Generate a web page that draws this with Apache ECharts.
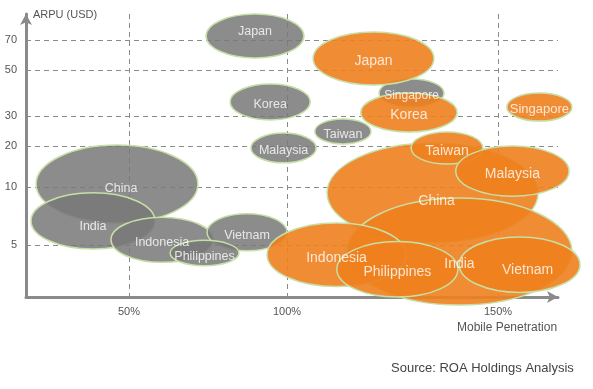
<!DOCTYPE html>
<html><head><meta charset="utf-8">
<script src="https://cdn.jsdelivr.net/npm/echarts@6/dist/echarts.min.js"></script>
<style>html,body{margin:0;padding:0;background:#fff}#c{width:593px;height:389px}</style>
</head><body><div id="c"></div>
<script>
// ---- Axis scale (the source chart uses an uneven, hand-drawn scale) ----
const xScaleValues = [17.4, 50, 100, 150, 164.2];      // mobile penetration (%)
const xScaleUnits  = [0, 103, 261, 472, 532];
const yScaleValues = [0.5, 5, 10, 20, 30, 50, 70, 87];  // ARPU (USD)
const yScaleUnits  = [0, 52, 110, 151, 181, 227, 257, 283];
const xTicks = [50, 100, 150];
const yTicks = [5, 10, 20, 30, 50, 70];

// ---- Earlier year (grey bubbles): penetration range and ARPU range ----
const prevNames  = ['China','India','Indonesia','Vietnam','Philippines','Japan','Korea','Malaysia','Taiwan','Singapore'];
const prevPenLo  = [20.6, 19.0, 44.3, 74.7, 63.0, 74.4, 82.0, 88.6, 106.6, 121.8];
const prevPenHi  = [71.8, 58.2, 76.6, 100.0, 84.8, 104.0, 105.5, 106.9, 119.9, 137.2];
const prevArpuLo = [6.9, 4.65, 3.5, 4.5, 3.2, 58, 28.7, 15.9, 20.7, 33.9];
const prevArpuHi = [20.3, 9.5, 7.4, 7.7, 5.4, 87, 43.9, 24.3, 29.0, 46.1];

// ---- Later year (orange bubbles) ----
const curNames  = ['Japan','Korea','Singapore','China','Taiwan','Malaysia','India','Indonesia','Philippines','Vietnam'];
const curPenLo  = [106.2, 117.5, 152.1, 109.5, 129.4, 140.0, 114.2, 93.7, 111.8, 140.8];
const curPenHi  = [134.8, 140.3, 167.5, 159.5, 146.4, 166.8, 167.5, 128.2, 140.5, 169.4];
const curArpuLo = [43.5, 24.7, 28.3, 5.2, 15.6, 9.2, -0.2, 1.4, 0.5, 0.9];
const curArpuHi = [75.2, 40.0, 40.0, 21.0, 24.7, 20.0, 9.05, 6.9, 5.3, 5.7];

// ---- helpers ----
function interp(v, vals, units) {
  let i = 0;
  while (i < vals.length - 2 && v > vals[i + 1]) i++;
  return units[i] + (v - vals[i]) * (units[i + 1] - units[i]) / (vals[i + 1] - vals[i]);
}
const toX = v => interp(v, xScaleValues, xScaleUnits);
const toY = v => interp(v, yScaleValues, yScaleUnits);

function buildRows(names, pLo, pHi, aLo, aHi) {
  return names.map((n, i) => ({ name: n, value: [toX(pLo[i]), toX(pHi[i]), toY(aLo[i]), toY(aHi[i])] }));
}
const prevRows = buildRows(prevNames, prevPenLo, prevPenHi, prevArpuLo, prevArpuHi);
const curRows = buildRows(curNames, curPenLo, curPenHi, curArpuLo, curArpuHi);

const labelOffsets = {
  'cur:India': [0, 13], 'cur:Vietnam': [8, 6], 'cur:China': [4, 8], 'cur:Singapore': [0, 2],
  'prev:Japan': [0, -4], 'prev:China': [4, 5], 'prev:India': [0, 6]
};
const labelSizes = { 'cur:Singapore': 13, 'prev:Singapore': 12 };

function labelRows(rows, key) {
  return rows.map(r => {
    const k = key + ':' + r.name;
    const label = { offset: labelOffsets[k] || [0, 3] };
    if (labelSizes[k]) label.fontSize = labelSizes[k];
    return {
      name: r.name,
      value: [(r.value[0] + r.value[1]) / 2, (r.value[2] + r.value[3]) / 2],
      label: label
    };
  });
}

function ellipseSeries(rows, fill) {
  return {
    type: 'custom',
    data: rows,
    encode: { x: [0, 1], y: [2, 3] },
    clip: false,
    renderItem: function (params, api) {
      const p0 = api.coord([api.value(0), api.value(2)]);
      const p1 = api.coord([api.value(1), api.value(3)]);
      return {
        type: 'ellipse',
        shape: {
          cx: (p0[0] + p1[0]) / 2, cy: (p0[1] + p1[1]) / 2,
          rx: Math.abs(p1[0] - p0[0]) / 2, ry: Math.abs(p1[1] - p0[1]) / 2
        },
        style: { fill: fill, stroke: '#c6dfa6', lineWidth: 1.5 }
      };
    }
  };
}

const FONT = 'Liberation Sans';
const axisLine = { show: true, lineStyle: { color: '#8a8a8a', width: 3 }, symbol: ['none', 'arrow'], symbolSize: [9, 11] };
const splitLine = { show: true, lineStyle: { color: '#8a8a8a', type: [5, 4], width: 1 } };

const chart = echarts.init(document.getElementById('c'), null, { renderer: 'canvas' });
chart.setOption({
  animation: false,
  backgroundColor: '#fff',
  grid: { left: 26, top: 14, width: 532, height: 283, containLabel: false },
  xAxis: {
    type: 'value', min: 0, max: 532,
    axisLine: axisLine,
    axisTick: { show: false, customValues: xTicks.map(toX) },
    axisLabel: {
      customValues: xTicks.map(toX), margin: 9, color: '#555', fontSize: 11, fontFamily: FONT,
      formatter: v => { const i = xTicks.findIndex(t => Math.abs(toX(t) - v) < 0.01); return i >= 0 ? xTicks[i] + '%' : ''; }
    },
    splitLine: splitLine
  },
  yAxis: {
    type: 'value', min: 0, max: 283,
    axisLine: axisLine,
    axisTick: { show: false, customValues: yTicks.map(toY) },
    axisLabel: {
      customValues: yTicks.map(toY), margin: 9, color: '#555', fontSize: 11, fontFamily: FONT,
      formatter: v => { const i = yTicks.findIndex(t => Math.abs(toY(t) - v) < 0.01); return i >= 0 ? String(yTicks[i]) : ''; }
    },
    splitLine: splitLine
  },
  graphic: [
    { type: 'text', left: 33, top: 9, style: { text: 'ARPU (USD)', fill: '#555', font: '11px "' + FONT + '"' } },
    { type: 'text', left: 457, top: 322, style: { text: 'Mobile Penetration', fill: '#555', font: '12px "' + FONT + '"' } },
    { type: 'text', left: 391, top: 362, style: { text: 'Source: ROA Holdings Analysis', fill: '#444', font: '13px "' + FONT + '"' } }
  ],
  series: [
    ellipseSeries(prevRows, 'rgba(120,120,120,0.85)'),
    ellipseSeries(curRows, 'rgba(238,127,29,0.9)'),
    {
      type: 'scatter', symbolSize: 0, z: 5, silent: true,
      data: labelRows(prevRows, 'prev'),
      label: { show: true, position: 'inside', formatter: '{b}', color: '#fff', fontSize: 12.5, fontFamily: FONT }
    },
    {
      type: 'scatter', symbolSize: 0, z: 5, silent: true,
      data: labelRows(curRows, 'cur'),
      label: { show: true, position: 'inside', formatter: '{b}', color: '#fff', fontSize: 14, fontFamily: FONT }
    }
  ]
});
</script></body></html>
